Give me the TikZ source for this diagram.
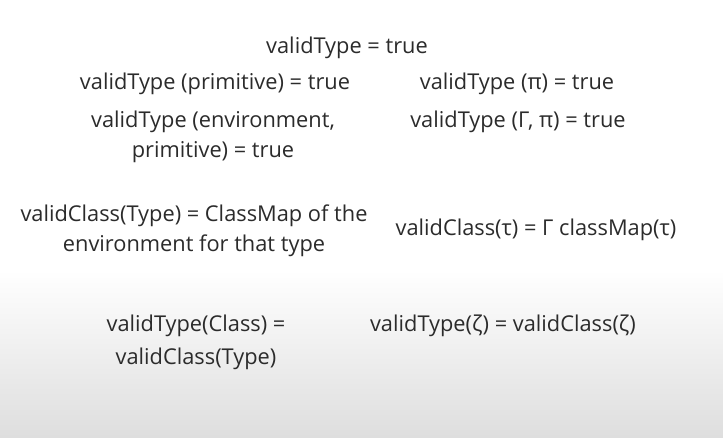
\documentclass[tikz,border=0pt]{standalone}
\usepackage{fontspec}
\setmainfont{Open Sans}
\usetikzlibrary{positioning}
\definecolor{slidetext}{HTML}{2B2B2B}
\definecolor{slidegray}{HTML}{DEDEDE}

\begin{document}
\begin{tikzpicture}[x=0.025cm, y=-0.025cm]
        % slide background
        \fill[white] (0, 0) rectangle (723, 270);
        \shade[top color=white, bottom color=slidegray] (0, 270) rectangle (723, 437);
        \useasboundingbox (0, 0) rectangle (723, 437);

        \begin{scope}[every node/.style={text=slidetext, align=center, inner sep=0pt,
                      font=\fontsize{15.5}{21}\selectfont}]
            \node (vt) at (347, 48) {validType = true} ;
            \node (vtprim) at (215, 84) {validType (primitive) = true} ;
            \node (vtpi) at (517, 84) {validType (π) = true} ;
            \node (vtenv) at (213, 137) {validType (environment,\\primitive) = true} ;
            \node (vtgam) at (518, 122) {validType (Γ, π) = true} ;
            \node (vcls) at (194, 231) {validClass(Type) = ClassMap of the\\environment for that type} ;
            \node (vctau) at (536, 230) {validClass(τ) = Γ classMap(τ)} ;
        \end{scope}

        \begin{scope}[every node/.style={text=slidetext, align=center, inner sep=0pt,
                      font=\fontsize{15.5}{23.5}\selectfont}]
            \node (vtcls) at (196, 342) {validType(Class) =\\validClass(Type)} ;
            \node (vtzeta) at (503, 326) {validType(ζ) = validClass(ζ)} ;
        \end{scope}
    \end{tikzpicture}
\end{document}
